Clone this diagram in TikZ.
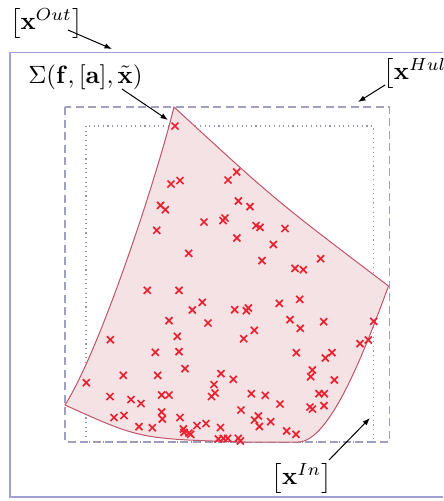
\documentclass[tikz,border=0pt]{standalone}
\usetikzlibrary{arrows.meta}
\definecolor{outblue}{RGB}{160,160,215}
\definecolor{hullgray}{RGB}{160,160,192}
\definecolor{ingray}{RGB}{150,150,168}
\definecolor{setfill}{RGB}{244,226,229}
\definecolor{setline}{RGB}{192,85,105}
\definecolor{crossred}{RGB}{234,35,50}
\tikzset{
  outbox/.style={draw=outblue, line width=0.45pt},
  hullbox/.style={draw=hullgray, line width=0.5pt, dash pattern=on 3.2pt off 1.8pt},
  inbox/.style={draw=ingray, line width=0.55pt, dash pattern=on 0.45pt off 1.4pt},
  setshape/.style={fill=setfill, draw=setline, line width=0.4pt},
  crossmark/.style={draw=crossred, line width=0.7pt},
  lbl/.style={inner sep=0pt, font=\normalsize},
  arr/.style={draw=black, line width=0.4pt, -{Latex[length=3pt,width=2.2pt]}}
}
\begin{document}
\begin{tikzpicture}[x=0.4pt,y=-0.4pt]
\useasboundingbox (0,0) rectangle (443,501);
\clip (0,0) rectangle (443,501);
% boxes
\path[outbox] (10,52.7) rectangle (470,497);
\path[hullbox] (65,107) rectangle (389.5,442);
\path[inbox] (86,126) rectangle (373.3,442);
% the set
\coordinate (A) at (174,107);
\coordinate (B) at (388.5,286);
\coordinate (C) at (298,442);
\coordinate (D) at (246,442);
\coordinate (E) at (65,405);
\path[setshape] (A) .. controls (275,200) .. (B)
  .. controls (365,350) and (330,442) .. (C)
  -- (D) .. controls (140,439) .. (E)
  .. controls (100,350) and (156,180) .. (A) -- cycle;
% samples
\foreach \a/\b in {175/126, 171/184, 180/180.5, 228/180, 236.7/172, 160.5/205.3, 165.3/209.7,
  238.3/201, 250/206.7, 204/222, 225/218, 223/220.5, 156.7/230.3, 256/225.5, 260/227.3,
  285/228.5, 236.8/238, 273.3/244.5, 188.7/253.3, 262/260.7, 320.7/258.7, 295/268.3,
  303.3/269.7, 147.3/290.3, 179/290.3, 202.3/302.3, 192.3/310, 169/320.7, 208/323,
  110.3/339.7, 177.3/336.3, 155.3/352.3, 179/351.7, 185/368.7, 123.3/375.3, 157.7/375.3,
  221/373.7, 86.3/382.7, 214/384.5, 215/393, 211.5/396.5, 110/396.5, 131/399.5, 141/403.5,
  161.7/395, 169/395, 234.7/309.7, 248.3/308, 246.3/310.7, 279.3/303.3, 299.7/299.3,
  290/319.7, 300.3/328.3, 323.7/321.7, 254.3/330.3, 243.7/338.7, 373.7/321.3, 368.3/340,
  360/343.7, 296.3/352.7, 332/352.7, 325.3/358, 312.3/370, 310.7/376.7, 334.3/380,
  233.3/379.3, 251.3/393.7, 265.3/395.3, 319/393.7, 324.3/393.7, 114/417.5, 124/415.5,
  161.7/412, 162.3/419, 180/417.5, 139/426.7, 152.3/427.7, 183.3/429, 184/432.3,
  190.7/434.3, 189/433, 197/425.5, 206/423.5, 220.5/427.5, 218.3/439, 223.3/438.5,
  241/410, 254.5/420, 258.3/416, 259.3/426.5, 270.7/421.7, 280/404, 286.7/431, 296/434.3,
  310/407, 312.5/409, 324/405.7, 227.7/438.3, 238.3/438.3, 240.3/441}
  \path[crossmark] (\a-3.5,\b-3.5) -- (\a+3.5,\b+3.5) (\a-3.5,\b+3.5) -- (\a+3.5,\b-3.5);
% labels
\node[lbl] (lout) at (46.3,23.5) {$\bigl[\mathbf{x}^{Out}\bigr]$};
\node[lbl] (lsig) at (85.5,77) {$\Sigma(\mathbf{f},[\mathbf{a}],\tilde{\mathbf{x}})$};
\node[lbl, anchor=west] (lhull) at (383,73) {$\bigl[\mathbf{x}^{Hull}\bigr]$};
\node[lbl] (lin) at (301.7,478) {$\bigl[\mathbf{x}^{In}\bigr]$};
% arrows
\coordinate (outT) at (68,30);   \coordinate (outH) at (112,49);
\coordinate (sigT) at (122,89);  \coordinate (sigH) at (168,120);
\coordinate (hulT) at (385,85);  \coordinate (hulH) at (358,102);
\coordinate (inT) at (329,460);  \coordinate (inH) at (370,418);
\draw[arr] (outT) -- (outH);
\draw[arr] (sigT) -- (sigH);
\draw[arr] (hulT) -- (hulH);
\draw[arr] (inT) -- (inH);
\end{tikzpicture}
\end{document}
